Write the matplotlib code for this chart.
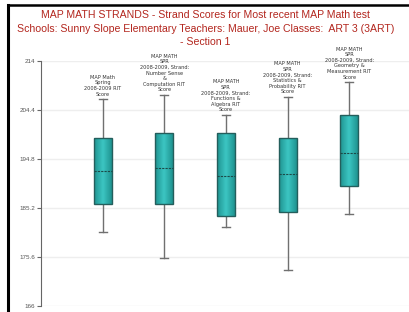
import matplotlib.pyplot as plt
import numpy as np
from matplotlib.lines import Line2D
from matplotlib.colors import LinearSegmentedColormap

# strand scores
labels = [
    "MAP Math\nSpring\n2008-2009 RIT\nScore",
    "MAP MATH\nSPR\n2008-2009, Strand:\nNumber Sense\n&\nComputation RIT\nScore",
    "MAP MATH\nSPR\n2008-2009, Strand:\nFunctions &\nAlgebra RIT\nScore",
    "MAP MATH\nSPR\n2008-2009, Strand:\nStatistics &\nProbability RIT\nScore",
    "MAP MATH\nSPR\n2008-2009, Strand:\nGeometry &\nMeasurement RIT\nScore",
]
whisker_low = [180.4, 175.5, 181.5, 173.1, 184.0]
q1 = [186.0, 186.0, 183.6, 184.5, 189.6]
median = [192.5, 193.0, 191.5, 191.9, 195.9]
q3 = [199.0, 199.8, 199.8, 199.0, 203.4]
whisker_high = [206.5, 207.3, 203.4, 206.9, 209.8]

yticks = [166, 175.6, 185.2, 194.8, 204.4, 214]
title_lines = [
    "MAP MATH STRANDS - Strand Scores for Most recent MAP Math test",
    "Schools: Sunny Slope Elementary Teachers: Mauer, Joe Classes:  ART 3 (3ART)",
    "- Section 1",
]

plt.rcParams['font.family'] = ['Liberation Sans', 'DejaVu Sans']

fig = plt.figure(figsize=(4.09, 3.12), dpi=100)
ax = fig.add_axes([41 / 409, 6 / 312, 370 / 409, 245 / 312])

stats = []
for i in range(len(labels)):
    stats.append(dict(med=median[i], q1=q1[i], q3=q3[i],
                      whislo=whisker_low[i], whishi=whisker_high[i], fliers=[]))

positions = list(range(1, len(labels) + 1))
width = 0.29
parts = ax.bxp(stats, positions=positions, widths=width, capwidths=0.13,
               patch_artist=True, showfliers=False,
               boxprops=dict(facecolor='#2fb2b0', edgecolor='#245e5c', linewidth=1),
               medianprops=dict(color='#1d4a48', linestyle=(0, (2, 1)), linewidth=0.8),
               whiskerprops=dict(color='#707070', linewidth=1),
               capprops=dict(color='#707070', linewidth=1))

# horizontal shading inside the boxes, dark at the sides and light in the middle
shade = LinearSegmentedColormap.from_list('teal', ['#1f9390', '#3cc6c3', '#1f9390'])
grad = np.linspace(0, 1, 64).reshape(1, -1)
for x, lo, hi, box in zip(positions, q1, q3, parts['boxes']):
    im = ax.imshow(grad, cmap=shade, aspect='auto', zorder=box.get_zorder() + 0.1,
                   extent=(x - width / 2, x + width / 2, lo, hi))
    im.set_clip_path(box)
    box.set_facecolor('none')
    box.set_zorder(box.get_zorder() + 0.2)
for m in parts['medians']:
    m.set_zorder(m.get_zorder() + 0.5)

for x, top, lab in zip(positions, whisker_high, labels):
    ax.annotate(lab, (x, top), xytext=(0, 2), textcoords='offset points',
                ha='center', va='bottom', fontsize=3.6, family='DejaVu Sans',
                color='#333333', linespacing=1.15)

ax.set_xlim(0, 6)
ax.set_ylim(166, 214)
ax.set_yticks(yticks)
ax.set_yticklabels(['166', '175.6', '185.2', '194.8', '204.4', '214'])
ax.set_xticks([])
ax.tick_params(axis='y', length=3, width=0.8, color='#666666',
               labelcolor='#555555', labelsize=4.5, pad=1)
ax.yaxis.grid(True, color='#eeeeee', linewidth=1)
ax.set_axisbelow(True)
for side in ['top', 'right', 'bottom']:
    ax.spines[side].set_visible(False)
ax.spines['left'].set_color('#666666')
ax.spines['left'].set_linewidth(0.8)

for k, line in enumerate(title_lines):
    fig.text(0.502, 1 - (15 + 13.5 * k) / 312, line, ha='center', va='center',
             fontsize=7.6, color='#b3261e')

# screenshot frame
fig.add_artist(Line2D([8 / 409, 1], [1 - 5 / 312, 1 - 5 / 312], color='black', linewidth=1.8))
fig.add_artist(Line2D([8 / 409, 8 / 409], [0, 1 - 5 / 312], color='black', linewidth=2.2))

fig.savefig('out.png', dpi=100)
